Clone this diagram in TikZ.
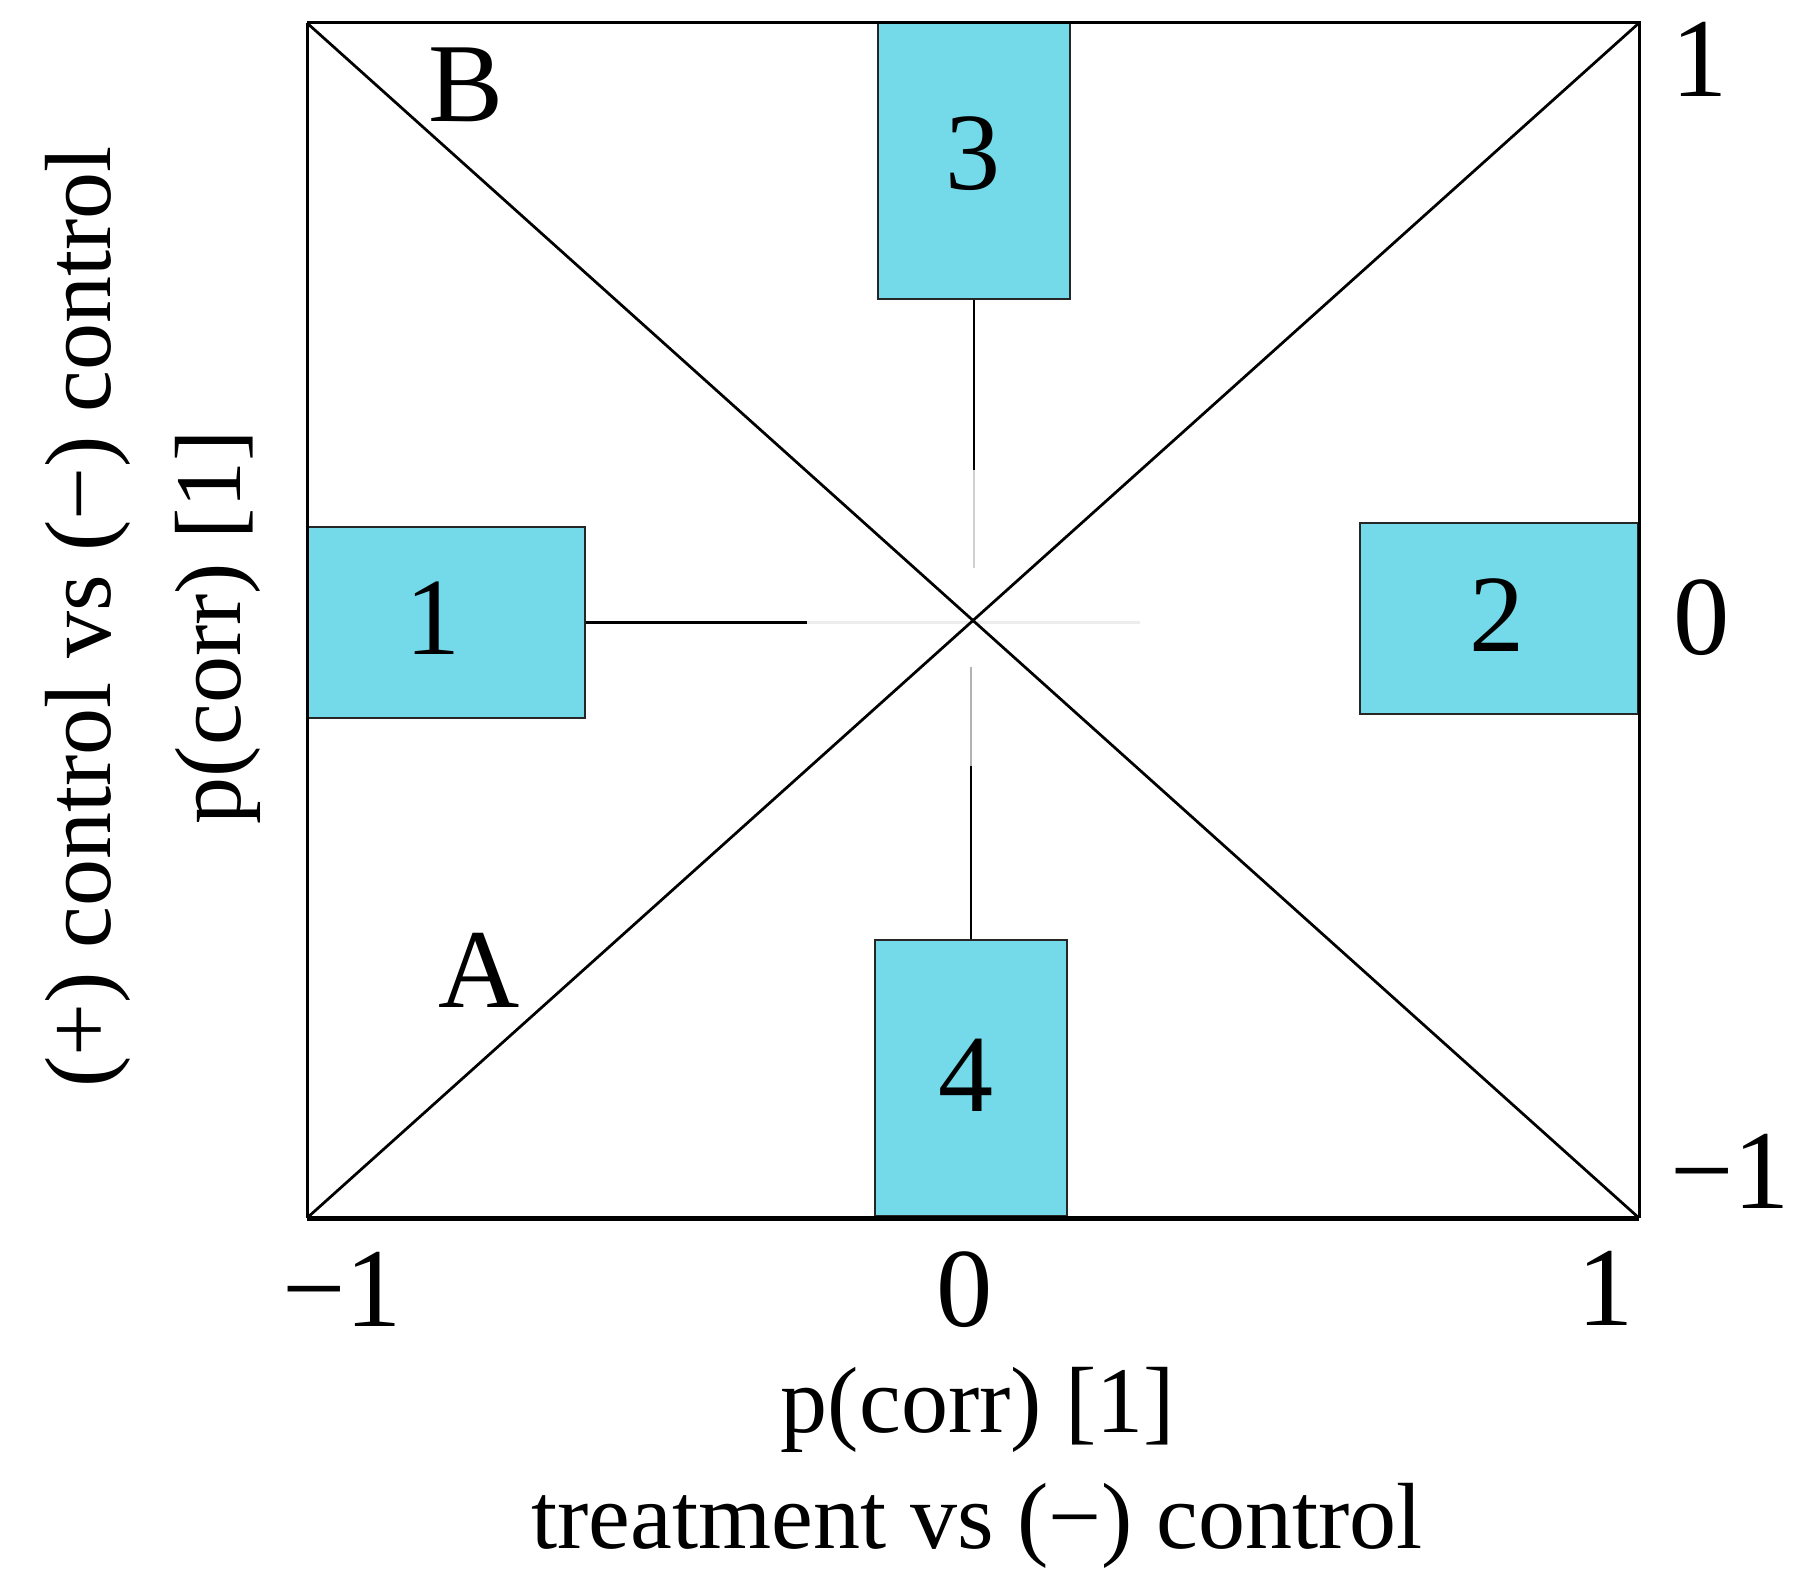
\documentclass[tikz,border=0pt]{standalone}
\usepackage{fontspec}
\setmainfont{Liberation Serif}
\usepackage{tikz}
\definecolor{boxfill}{RGB}{116,217,233}

\begin{document}
\begin{tikzpicture}[x=0.2pt, y=-0.2pt, line cap=butt,
	qbox/.style={draw=black!85, line width=0.4pt, fill=boxfill, inner sep=0pt},
	qnum/.style={inner sep=0pt, font=\fontsize{22}{26}\selectfont},
	tick/.style={inner sep=0pt, font=\fontsize{22.5}{27}\selectfont},
	axlab/.style={inner sep=0pt, font=\fontsize{18.8}{22}\selectfont},
	whisk/.style={line width=0.45pt}]

	\useasboundingbox (0,0) rectangle (1796,1594);

	\coordinate (TL) at (307,23);
	\coordinate (TR) at (1639,23);
	\coordinate (BL) at (307,1218);
	\coordinate (BR) at (1639,1218);

	% the four boxes
	\node[qbox, minimum width=55.6pt, minimum height=38.2pt] (b1) at (446,622.5) {};
	\node[qbox, minimum width=55.6pt, minimum height=38.2pt] (b2) at (1499,619) {};
	\node[qbox, minimum width=38.4pt, minimum height=55.2pt] (b3) at (974,161) {};
	\node[qbox, minimum width=38.4pt, minimum height=55.2pt] (b4) at (971,1078) {};
	\node[qnum] (n1) at (433,618) {1};
	\node[qnum] (n2) at (1497,615) {2};
	\node[qnum] (n3) at (973,154) {3};
	\node[qnum] (n4) at (966,1075) {4};

	% whiskers, fading towards the middle
	\coordinate (w1) at (807,622.5);
	\coordinate (w1f) at (1140,622.5);
	\coordinate (w3) at (974,470);
	\coordinate (w3f) at (974,568);
	\coordinate (w4) at (971,766);
	\coordinate (w4f) at (971,667);
	\draw[whisk] (b1.east) -- (w1);
	\draw[whisk, black!7] (w1) -- (w1f);
	\draw[whisk] (b3.south) -- (w3);
	\draw[whisk, black!18] (w3) -- (w3f);
	\draw[whisk] (b4.north) -- (w4);
	\draw[whisk, black!30] (w4) -- (w4f);

	% frame and diagonals
	\draw[line width=0.6pt] (TL) -- (TR) -- (BR);
	\draw[line width=0.6pt] (TL) -- (BL);
	\draw[line width=1pt] (BL) -- (BR);
	\draw[line width=0.55pt] (TL) -- (BR);
	\draw[line width=0.55pt] (BL) -- (TR);

	\node[tick, anchor=base] (lB) at (466,122) {B};
	\node[tick, anchor=base] (lA) at (479,1008) {A};

	% ticks
	\node[tick, anchor=base] (tx1) at (342,1326) {−1};
	\node[tick, anchor=base] (tx2) at (965,1326) {0};
	\node[tick, anchor=base] (tx3) at (1606,1325) {1};
	\node[tick, anchor=base west] (ty1) at (1670,97) {1};
	\node[tick, anchor=base west] (ty2) at (1672,655) {0};
	\node[tick, anchor=base west] (ty3) at (1669,1208) {−1};

	% axis labels
	\node[axlab, rotate=90, anchor=base] (ylab1) at (110,617) {(+) control vs (−) control};
	\node[axlab, rotate=90, anchor=base] (ylab2) at (240,627) {p(corr) [1]};
	\node[axlab, anchor=base] (xlab1) at (978,1432) {p(corr) [1]};
	\node[axlab, anchor=base] (xlab2) at (977,1548) {treatment vs (−) control};

\end{tikzpicture}
\end{document}
